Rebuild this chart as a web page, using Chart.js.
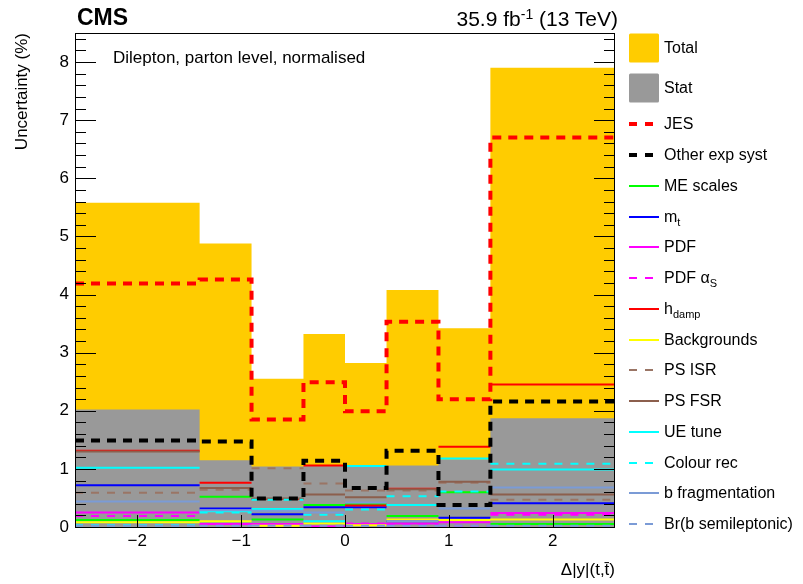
<!DOCTYPE html>
<html>
<head>
<meta charset="utf-8">
<script src="https://cdn.jsdelivr.net/npm/chart.js@4.4.1/dist/chart.umd.min.js"></script>
<style>
  body { margin: 0; background: #fff; font-family: "Liberation Sans", Arial, sans-serif; }
  #wrap { position: relative; width: 803px; height: 584px; }
  #chart { position: absolute; left: 0; top: 0; }
  .txt { position: absolute; white-space: nowrap; color: #000; line-height: 1; }
  .leg { position: absolute; left: 629px; height: 30px; display: flex; align-items: center; white-space: nowrap; font-size: 16px; }
  .leg svg { width: 31px; height: 30px; margin-right: 4px; flex: none; }
  .leg sub { font-size: 11px; vertical-align: -4px; line-height: 0; }
</style>
</head>
<body>
<div id="wrap">
  <canvas id="chart" width="803" height="584"></canvas>
  <div class="txt" style="left:77px; top:6px; font-size:23px; font-weight:bold;">CMS</div>
  <div class="txt" style="right:185px; top:8px; font-size:21px;">35.9 fb<sup style="font-size:14px; vertical-align:7px; line-height:0;">-1</sup> (13 TeV)</div>
  <div class="txt" style="left:113px; top:49px; font-size:17px;">Dilepton, parton level, normalised</div>
  <div id="legend"></div>
</div>
<script>
// bin edges of Δ|y|(t,tbar) and axis ticks
var binEdges = [-2.6, -1.4, -0.9, -0.4, 0, 0.4, 0.9, 1.4, 2.6];
var xTicks = [-2, -1, 0, 1, 2];
var yTicks = [0, 1, 2, 3, 4, 5, 6, 7, 8];

// uncertainties (%) per bin
var total       = [5.58, 4.88, 2.55, 3.32, 2.82, 4.08, 3.42, 7.90];
var stat        = [2.02, 1.15, 1.04, 1.05, 1.04, 1.06, 1.16, 1.87];
var jes         = [4.19, 4.26, 1.85, 2.49, 1.99, 3.53, 2.20, 6.70];
var otherExp    = [1.49, 1.47, 0.49, 1.14, 0.67, 1.31, 0.38, 2.16];
var meScales    = [0.12, 0.52, 0.13, 0.38, 0.39, 0.19, 0.60, 0.05];
var mTop        = [0.72, 0.32, 0.22, 0.34, 0.34, 0.10, 0.16, 0.41];
var pdf         = [0.25, 0.05, 0.05, 0.01, 0.05, 0.06, 0.08, 0.24];
var pdfAlphaS   = [0.19, 0.04, 0.03, 0.02, 0.06, 0.05, 0.02, 0.21];
var hdamp       = [1.31, 0.76, 0.48, 1.06, 0.37, 0.66, 1.38, 2.45];
var backgrounds = [0.08, 0.10, 0.02, 0.06, 0.03, 0.13, 0.12, 0.13];
var psIsr       = [0.59, 0.64, 1.01, 0.75, 0.63, 0.63, 0.76, 0.47];
var psFsr       = [1.30, 0.67, 0.49, 0.56, 0.51, 0.65, 0.78, 0.56];
var ueTune      = [1.02, 0.27, 0.31, 0.10, 1.05, 0.38, 1.18, 0.99];
var colourRec   = [0.03, 0.25, 0.47, 0.21, 0.30, 0.53, 0.61, 1.09];
var bFrag       = [0.44, 0.29, 0.28, 0.25, 0.42, 0.10, 0.32, 0.68];
var brSemilep   = [0.02, 0.02, 0.02, 0.02, 0.02, 0.02, 0.02, 0.02];

// histogram outline (with verticals), point i+1 closes bin i
function stepPoints(vals) {
    return binEdges.map(function(e, i) {
        return { x: e, y: vals[Math.max(i - 1, 0)] };
    });
}
// horizontal bin segments only
function segPoints(vals) {
    var pts = [];
    vals.forEach(function(v, i) {
        pts.push({ x: binEdges[i], y: v }, { x: binEdges[i + 1], y: v }, { x: binEdges[i + 1], y: null });
    });
    return pts;
}

var series = [
    { label: 'Total', vals: total, color: '#ffcc00', kind: 'box' },
    { label: 'Stat', vals: stat, color: '#999999', kind: 'box' },
    { label: 'JES', vals: jes, color: '#ff0000', kind: 'thick' },
    { label: 'Other exp syst', vals: otherExp, color: '#000000', kind: 'thick' },
    { label: 'ME scales', vals: meScales, color: '#00ff00', kind: 'line' },
    { label: 'm<sub>t</sub>', vals: mTop, color: '#0000ff', kind: 'line' },
    { label: 'PDF', vals: pdf, color: '#ff00ff', kind: 'line' },
    { label: 'PDF &alpha;<sub>S</sub>', vals: pdfAlphaS, color: '#ff00ff', kind: 'dash' },
    { label: 'h<sub>damp</sub>', vals: hdamp, color: '#ff0000', kind: 'line' },
    { label: 'Backgrounds', vals: backgrounds, color: '#ffff00', kind: 'line' },
    { label: 'PS ISR', vals: psIsr, color: '#9a7565', kind: 'dash' },
    { label: 'PS FSR', vals: psFsr, color: '#8c5f4d', kind: 'line' },
    { label: 'UE tune', vals: ueTune, color: '#00ffff', kind: 'line' },
    { label: 'Colour rec', vals: colourRec, color: '#00ffff', kind: 'dash' },
    { label: 'b fragmentation', vals: bFrag, color: '#7b9bd6', kind: 'line' },
    { label: 'Br(b semileptonic)', vals: brSemilep, color: '#7b9bd6', kind: 'dash' }
];

var datasets = series.map(function(s, i) {
    if (s.kind === 'box') {
        return {
            label: s.label, data: stepPoints(s.vals), stepped: 'after',
            fill: 'origin', backgroundColor: s.color, borderWidth: 0,
            pointRadius: 0, order: 100 - i
        };
    }
    if (s.kind === 'thick') {
        return {
            label: s.label, data: stepPoints(s.vals), stepped: 'after',
            borderColor: s.color, borderWidth: 4, borderDash: [9, 7],
            fill: false, pointRadius: 0, order: i - 2
        };
    }
    return {
        label: s.label, data: segPoints(s.vals), borderColor: s.color,
        borderWidth: 2, borderDash: s.kind === 'dash' ? [8, 8] : [],
        borderCapStyle: 'butt', fill: false, pointRadius: 0, spanGaps: false,
        order: 40 - i
    };
});

// frame and inward ROOT-style tick marks
var frameTicks = {
    id: 'frameTicks',
    afterDatasetsDraw: function(chart) {
        var ctx = chart.ctx, a = chart.chartArea, x = chart.scales.x, y = chart.scales.y;
        ctx.save();
        ctx.strokeStyle = '#000';
        ctx.lineWidth = 1;
        ctx.beginPath();
        var n = Math.floor(y.max / 0.2 + 1e-6);
        for (var i = 0; i <= n; i++) {
            var py = Math.round(y.getPixelForValue(i * 0.2)) + 0.5;
            var len = (i % 5 === 0) ? 21 : 11;
            ctx.moveTo(a.left, py); ctx.lineTo(a.left + len, py);
            ctx.moveTo(a.right, py); ctx.lineTo(a.right - len, py);
        }
        xTicks.forEach(function(v) {
            var px = Math.round(x.getPixelForValue(v)) + 0.5;
            ctx.moveTo(px, a.bottom); ctx.lineTo(px, a.bottom - 12);
        });
        ctx.stroke();
        ctx.strokeRect(a.left + 0.5, a.top + 0.5, a.right - a.left - 1, a.bottom - a.top);
        ctx.restore();
    }
};

var ctx = document.getElementById('chart').getContext('2d');
var chart = new Chart(ctx, {
    type: 'line',
    data: { datasets: datasets },
    options: {
        responsive: false,
        animation: false,
        layout: { padding: { left: 0, right: 188, top: 33, bottom: 0 } },
        plugins: { legend: { display: false }, tooltip: { enabled: false } },
        scales: {
            x: {
                type: 'linear', min: -2.6, max: 2.6,
                afterBuildTicks: function(s) { s.ticks = xTicks.map(function(v) { return { value: v }; }); },
                afterFit: function(s) { s.height = 57; },
                grid: { display: false, drawTicks: false }, border: { display: false },
                ticks: {
                    color: '#000', padding: 4,
                    font: { family: '"Liberation Sans", Arial, sans-serif', size: 17 },
                    callback: function(v) { return v < 0 ? '\u2212' + Math.abs(v) : String(v); }
                },
                title: {
                    display: true, text: '\u0394|y|(t,t\u0304)', align: 'end', color: '#000',
                    font: { family: '"Liberation Sans", Arial, sans-serif', size: 17 },
                    padding: { top: 0, bottom: 3 }
                }
            },
            y: {
                min: 0, max: 8.5,
                afterBuildTicks: function(s) { s.ticks = yTicks.map(function(v) { return { value: v }; }); },
                afterFit: function(s) { s.width = 75; },
                grid: { display: false, drawTicks: false }, border: { display: false },
                ticks: {
                    color: '#000', padding: 6,
                    font: { family: '"Liberation Sans", Arial, sans-serif', size: 17 }
                },
                title: {
                    display: true, text: 'Uncertainty (%)', align: 'end', color: '#000',
                    font: { family: '"Liberation Sans", Arial, sans-serif', size: 17 },
                    padding: { top: 12, bottom: 0 }
                }
            }
        }
    },
    plugins: [frameTicks]
});

// legend on the right
var legend = document.getElementById('legend');
var legCenters = [48, 88];
for (var k = 0; k < series.length - 2; k++) legCenters.push(124.3 + k * 30.75);
series.forEach(function(s, i) {
    var row = document.createElement('div');
    row.className = 'leg';
    row.style.top = (legCenters[i] - 15) + 'px';
    var svg;
    if (s.kind === 'box') {
        svg = '<svg viewBox="0 0 31 30"><rect x="0" y="0.5" width="30" height="29" rx="1.5" fill="' + s.color + '"/></svg>';
    } else {
        var w = s.kind === 'thick' ? 4 : 2;
        var dash = (s.kind === 'thick' || s.kind === 'dash') ? ' stroke-dasharray="8 8"' : '';
        svg = '<svg viewBox="0 0 31 30"><line x1="0" y1="15" x2="30" y2="15" stroke="' + s.color +
              '" stroke-width="' + w + '"' + dash + '/></svg>';
    }
    row.innerHTML = svg + '<span>' + s.label + '</span>';
    legend.appendChild(row);
});
</script>
</body>
</html>
